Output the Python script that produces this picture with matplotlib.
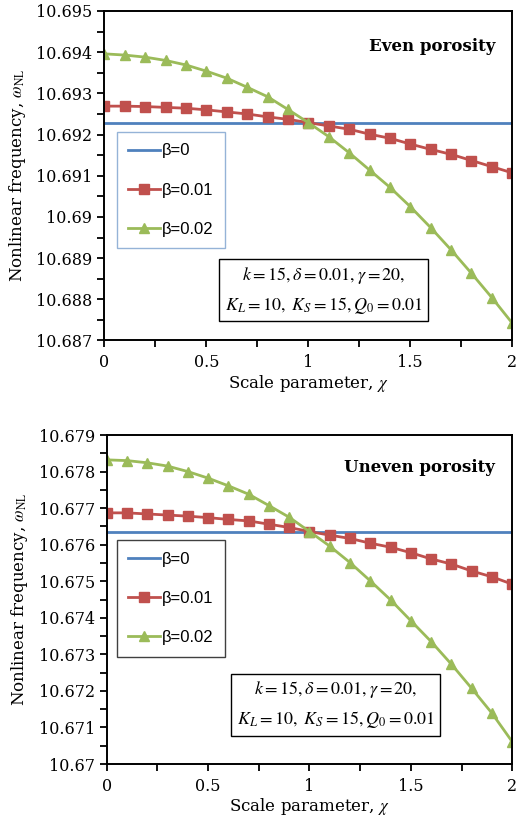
import matplotlib
matplotlib.use('Agg')
import matplotlib.pyplot as plt
from matplotlib.ticker import MultipleLocator, FuncFormatter

plt.rcParams['mathtext.fontset'] = 'stix'
plt.rcParams['font.family'] = ['DejaVu Serif']

chi = [0.0, 0.1, 0.2, 0.3, 0.4, 0.5, 0.6, 0.7, 0.8, 0.9, 1.0,
       1.1, 1.2, 1.3, 1.4, 1.5, 1.6, 1.7, 1.8, 1.9, 2.0]

# even porosity
even_b0 = [10.69229] * len(chi)
even_b001 = [10.69269, 10.69269, 10.69268, 10.69266, 10.69264, 10.69260, 10.69255,
             10.69250, 10.69243, 10.69237, 10.69229, 10.69221, 10.69213, 10.69201,
             10.69191, 10.69177, 10.69164, 10.69152, 10.69137, 10.69122, 10.69107]
even_b002 = [10.69396, 10.69393, 10.69388, 10.69380, 10.69369, 10.69354, 10.69337,
             10.69315, 10.69292, 10.69261, 10.69229, 10.69195, 10.69156, 10.69114,
             10.69072, 10.69025, 10.68974, 10.68920, 10.68863, 10.68804, 10.68742]

# uneven porosity
uneven_b0 = [10.67636] * len(chi)
uneven_b001 = [10.67687, 10.67687, 10.67684, 10.67681, 10.67678, 10.67674, 10.67669,
               10.67665, 10.67656, 10.67647, 10.67636, 10.67626, 10.67617, 10.67604,
               10.67593, 10.67578, 10.67561, 10.67547, 10.67528, 10.67512, 10.67492]
uneven_b002 = [10.67832, 10.67830, 10.67824, 10.67815, 10.67800, 10.67782, 10.67761,
               10.67738, 10.67707, 10.67675, 10.67636, 10.67596, 10.67551, 10.67501,
               10.67449, 10.67392, 10.67335, 10.67273, 10.67207, 10.67139, 10.67061]

labels = ['β=0', 'β=0.01', 'β=0.02']
blue, red, green = '#4F81BD', '#C0504D', '#9BBB59'

params = '$k=15,\\delta=0.01,\\gamma=20,$\n$K_L=10,\\ K_S=15,Q_0=0.01$'


def yfmt(v, pos):
    s = '%.3f' % v
    return s.rstrip('0').rstrip('.')


def xfmt(v, pos):
    return '%g' % v


W, H = 516, 827
fig = plt.figure(figsize=(W / 100, H / 100), dpi=100)


def panel(rect, b0, b1, b2, ylim, title, title_y, leg_top, leg_edge, box_xy):
    ax = fig.add_axes(rect)
    ax.plot(chi, b0, color=blue, lw=2.0, label=labels[0])
    ax.plot(chi, b1, color=red, lw=2.0, marker='s', ms=7, label=labels[1])
    ax.plot(chi, b2, color=green, lw=2.0, marker='^', ms=6.5, label=labels[2])
    ax.set_xlim(0, 2)
    ax.set_ylim(*ylim)
    ax.xaxis.set_major_locator(MultipleLocator(0.5))
    ax.xaxis.set_minor_locator(MultipleLocator(0.25))
    ax.yaxis.set_major_locator(MultipleLocator(0.001))
    ax.yaxis.set_minor_locator(MultipleLocator(0.0005))
    ax.xaxis.set_major_formatter(FuncFormatter(xfmt))
    ax.yaxis.set_major_formatter(FuncFormatter(yfmt))
    ax.tick_params(which='both', direction='out', width=1.3, length=5,
                   labelsize=11.5, top=False, right=False)
    ax.tick_params(axis='x', pad=5)
    for s in ax.spines.values():
        s.set_linewidth(1.4)
        s.set_color('black')
    ax.set_xlabel('Scale parameter, $\\chi$', fontsize=12, labelpad=1)
    ax.set_ylabel('Nonlinear frequency, $\\omega_{\\rm NL}$', fontsize=12, labelpad=6)
    ax.text(495 / W, 1 - title_y / H, title, transform=fig.transFigure,
            ha='right', va='center', fontsize=12, fontweight='bold')
    leg = ax.legend(loc='upper left', bbox_to_anchor=(116.7 / W, 1 - leg_top / H),
                    bbox_transform=fig.transFigure, fancybox=False, framealpha=1,
                    edgecolor=leg_edge, prop={'family': 'Liberation Sans', 'size': 12},
                    handlelength=1.9, handletextpad=0.1, labelspacing=1.45,
                    borderpad=0.7, borderaxespad=0)
    leg.get_frame().set_linewidth(1.0)
    ax.text(box_xy[0] / W, 1 - box_xy[1] / H, params, transform=fig.transFigure,
            ha='center', va='center', fontsize=13, linespacing=1.6,
            bbox=dict(boxstyle='square,pad=0.3', fc='white', ec='black', lw=1.0))
    return ax


panel([104.3 / W, 1 - 340.5 / H, 408 / W, 329.5 / H],
      even_b0, even_b001, even_b002, (10.687, 10.695),
      'Even porosity', 46.7, 131.7, '#95B3D7', (323.7, 290))
panel([106.7 / W, 1 - 764 / H, 405.5 / W, 329 / H],
      uneven_b0, uneven_b001, uneven_b002, (10.67, 10.679),
      'Uneven porosity', 468, 540, '#404040', (335.5, 705))

fig.savefig('out.png', dpi=100)
